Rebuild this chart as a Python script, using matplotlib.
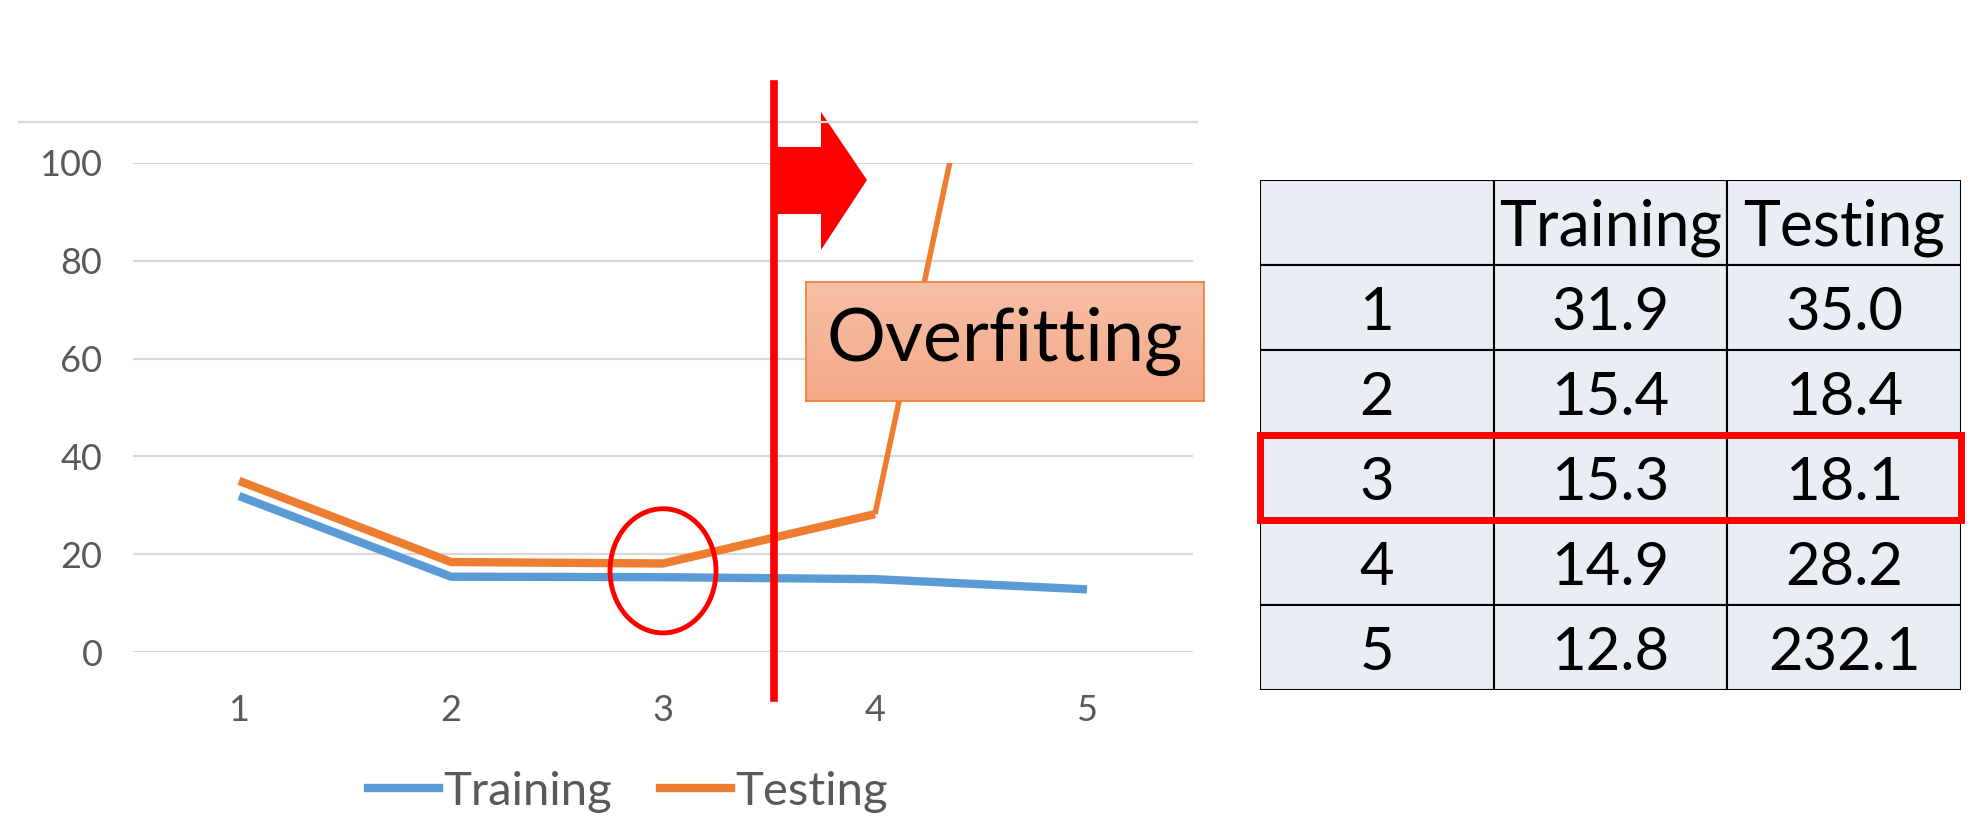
import numpy as np
import matplotlib
matplotlib.use('Agg')
import matplotlib.pyplot as plt
from matplotlib.patches import Ellipse, Polygon, Rectangle
from matplotlib.lines import Line2D

##################
# Data
##################

degree=      [1,2,3,4,5]
training=    [31.9,15.4,15.3,14.9,12.8]
testing=     [35.0,18.4,18.1,28.2,232.1]
col_names=   ['','Training','Testing']
best_row=    3

yticks=      [0,20,40,60,80,100]

blue=   '#5B9BD5'
orange= '#ED7D31'
red=    '#FF0000'
grey=   '#595959'
gridc=  '#D9D9D9'

W,H= 1986.,824.

def fx(px): return px/W
def fy(py): return 1.-py/H

plt.rcParams['font.family']= ['Lato','DejaVu Sans']

fig=plt.figure(figsize=(W/100,H/100),dpi=100)

####################
# Line chart
####################

ax=fig.add_axes([fx(133),fy(652),fx(1193)-fx(133),fy(163)-fy(652)])

ax.plot(degree[:4],testing[:4],color=orange,lw=6,solid_capstyle='butt',solid_joinstyle='round',zorder=3)
ax.plot(degree[3:],testing[3:],color=orange,lw=4,solid_capstyle='butt',zorder=3)
ax.plot(degree,training,color=blue,lw=6,solid_capstyle='butt',solid_joinstyle='round',zorder=3)

ax.set_xlim(0.5,5.5)
ax.set_ylim(0,100)
ax.set_yticks(yticks)
ax.set_xticks(degree)
ax.grid(axis='y',color=gridc,lw=1.6)
ax.set_axisbelow(True)
for s in ax.spines.values():
    s.set_visible(False)
ax.tick_params(length=0,labelsize=26,labelcolor=grey)
ax.tick_params(axis='y',pad=22)
ax.tick_params(axis='x',pad=30)

# circle round the best model
ax.add_patch(Ellipse((3,16.6),0.5,25.4,fill=False,ec=red,lw=3.5,clip_on=False,zorder=4))

# top border line of the chart area
fig.add_artist(Line2D([fx(19),fx(1197)],[fy(122),fy(122)],color=gridc,lw=1.6))

# legend
h1=Line2D([],[],color=blue,lw=6)
h2=Line2D([],[],color=orange,lw=6)
fig.legend([h1,h2],['Training','Testing'],loc='center',bbox_to_anchor=(fx(628),fy(792)),
           ncol=2,frameon=False,fontsize=34,handlelength=1.5,handletextpad=0.1,
           columnspacing=1.0,labelcolor=grey)

####################
# Overfitting marker
####################

fig.add_artist(Line2D([fx(774),fx(774)],[fy(84),fy(698)],color=red,lw=5.5))

arrow=[(775,147),(821,147),(821,112),(867,180),(821,250),(821,214),(775,214)]
fig.add_artist(Polygon([(fx(a),fy(b)) for a,b in arrow],closed=True,fc=red,ec='none'))

bx=fig.add_axes([fx(806),fy(401),fx(1204)-fx(806),fy(282)-fy(401)])
grad=np.linspace(0,1,100).reshape(-1,1)
c0=np.array([247,192,166])/255.
c1=np.array([244,168,136])/255.
img=c0+(c1-c0)*grad[:,:,None]
bx.imshow(img,aspect='auto',extent=(0,1,0,1))
bx.set_xticks([])
bx.set_yticks([])
for s in bx.spines.values():
    s.set_color(orange)
    s.set_linewidth(1.2)
bx.text(0.5,0.5,'Overfitting',ha='center',va='center',fontsize=53,color='k')

####################
# Table
####################

tx=fig.add_axes([fx(1260),fy(690),fx(1961)-fx(1260),fy(180)-fy(690)])
tx.set_xlim(0,3)
tx.set_ylim(6,0)
tx.axis('off')

rows=[col_names]+[[str(d),'%.1f'%tr,'%.1f'%te] for d,tr,te in zip(degree,training,testing)]

for i,row in enumerate(rows):
    for j,val in enumerate(row):
        tx.add_patch(Rectangle((j,i),1,1,fc='#E9EDF4',ec='k',lw=1.5))
        fs= 45 if i==0 else 43
        tx.text(j+0.5,i+0.56,val,ha='center',va='center',fontsize=fs,color='k')

tx.add_patch(Rectangle((0,best_row),3,1,fill=False,ec=red,lw=5,clip_on=False,zorder=5))

fig.savefig('out.png',dpi=100)
